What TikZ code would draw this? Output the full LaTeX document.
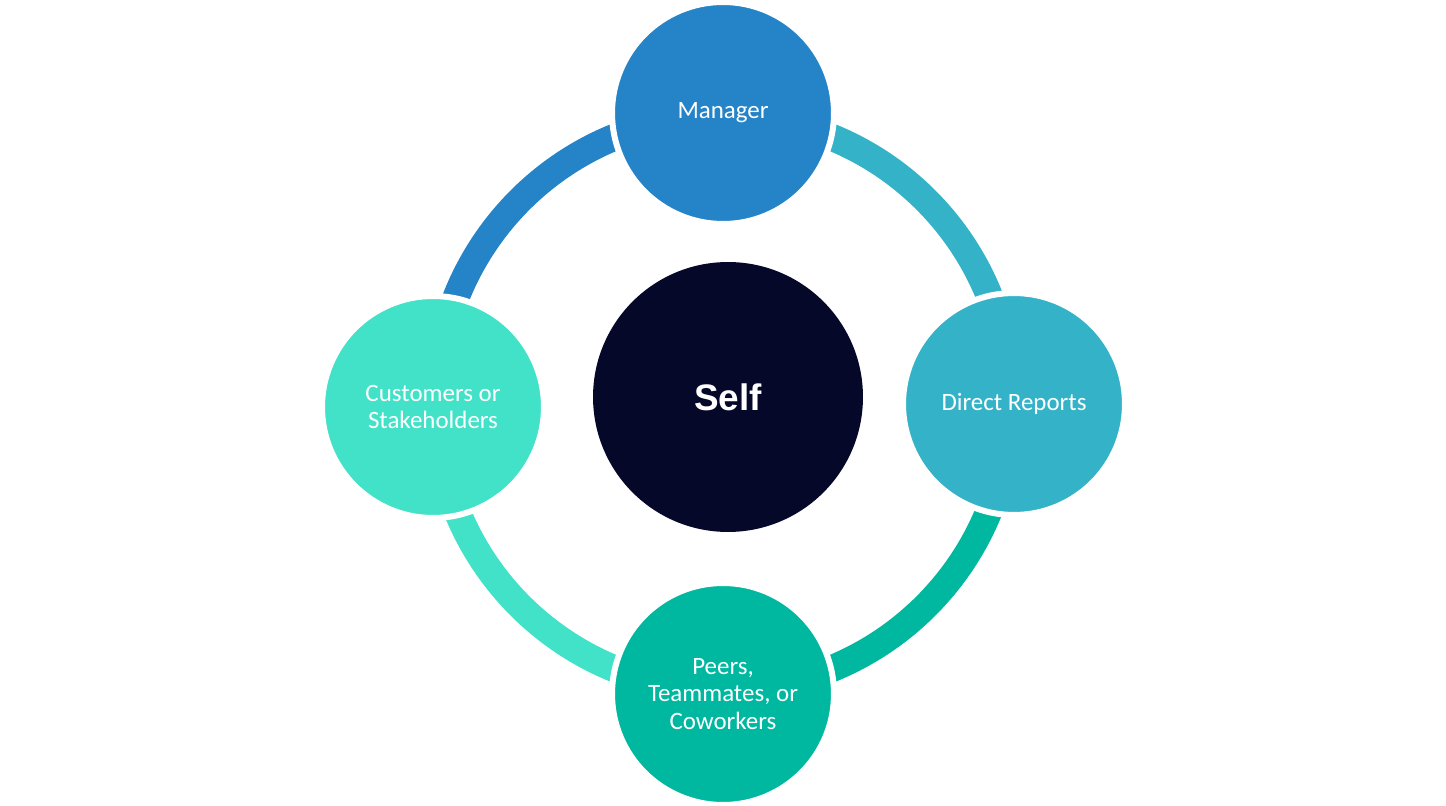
\documentclass[tikz,border=0pt]{standalone}
\usepackage{fontspec}
\setmainfont{Carlito}
\newfontfamily\selffont{Liberation Sans}

\definecolor{mgrblue}{RGB}{37,131,200}
\definecolor{drteal}{RGB}{52,179,200}
\definecolor{peergreen}{RGB}{0,184,160}
\definecolor{custaqua}{RGB}{66,226,200}
\definecolor{selfnavy}{RGB}{5,8,40}

\begin{document}
\begin{tikzpicture}[x=0.02cm, y=0.02cm]
	\tikzstyle{party} = [
		circle, draw=white, line width=0.12cm, minimum size=4.44cm,
		inner sep=0pt, outer sep=0pt, text=white, align=center,
		font=\fontsize{14.2}{15.8}\selectfont
	]
	\tikzstyle{ring} = [
		line width=0.54cm
	]

	\useasboundingbox (0,0) rectangle (1446,805);

	% ring
	\coordinate (Hub) at (723,402);
	\draw[ring, mgrblue]   (Hub) ++(90:287)  arc (90:180:287);
	\draw[ring, drteal]    (Hub) ++(0:287)   arc (0:90:287);
	\draw[ring, peergreen] (Hub) ++(-90:287) arc (-90:0:287);
	\draw[ring, custaqua]  (Hub) ++(180:287) arc (180:270:287);

	% outer circles
	\node (Manager)   [party, fill=mgrblue]   at (723,692) {Manager};
	\node (Direct)    [party, fill=drteal]    at (1014,401) {Direct Reports};
	\node (Peers)     [party, fill=peergreen] at (723,111) {Peers,\\Teammates, or\\Coworkers};
	\node (Customers) [party, fill=custaqua]  at (433,398) {Customers or\\Stakeholders};

	% centre
	\node (Self) [circle, fill=selfnavy, minimum size=5.4cm, inner sep=0pt,
		text=white, font=\selffont\bfseries\fontsize{21}{25}\selectfont] at (728,408) {Self};
\end{tikzpicture}
\end{document}
